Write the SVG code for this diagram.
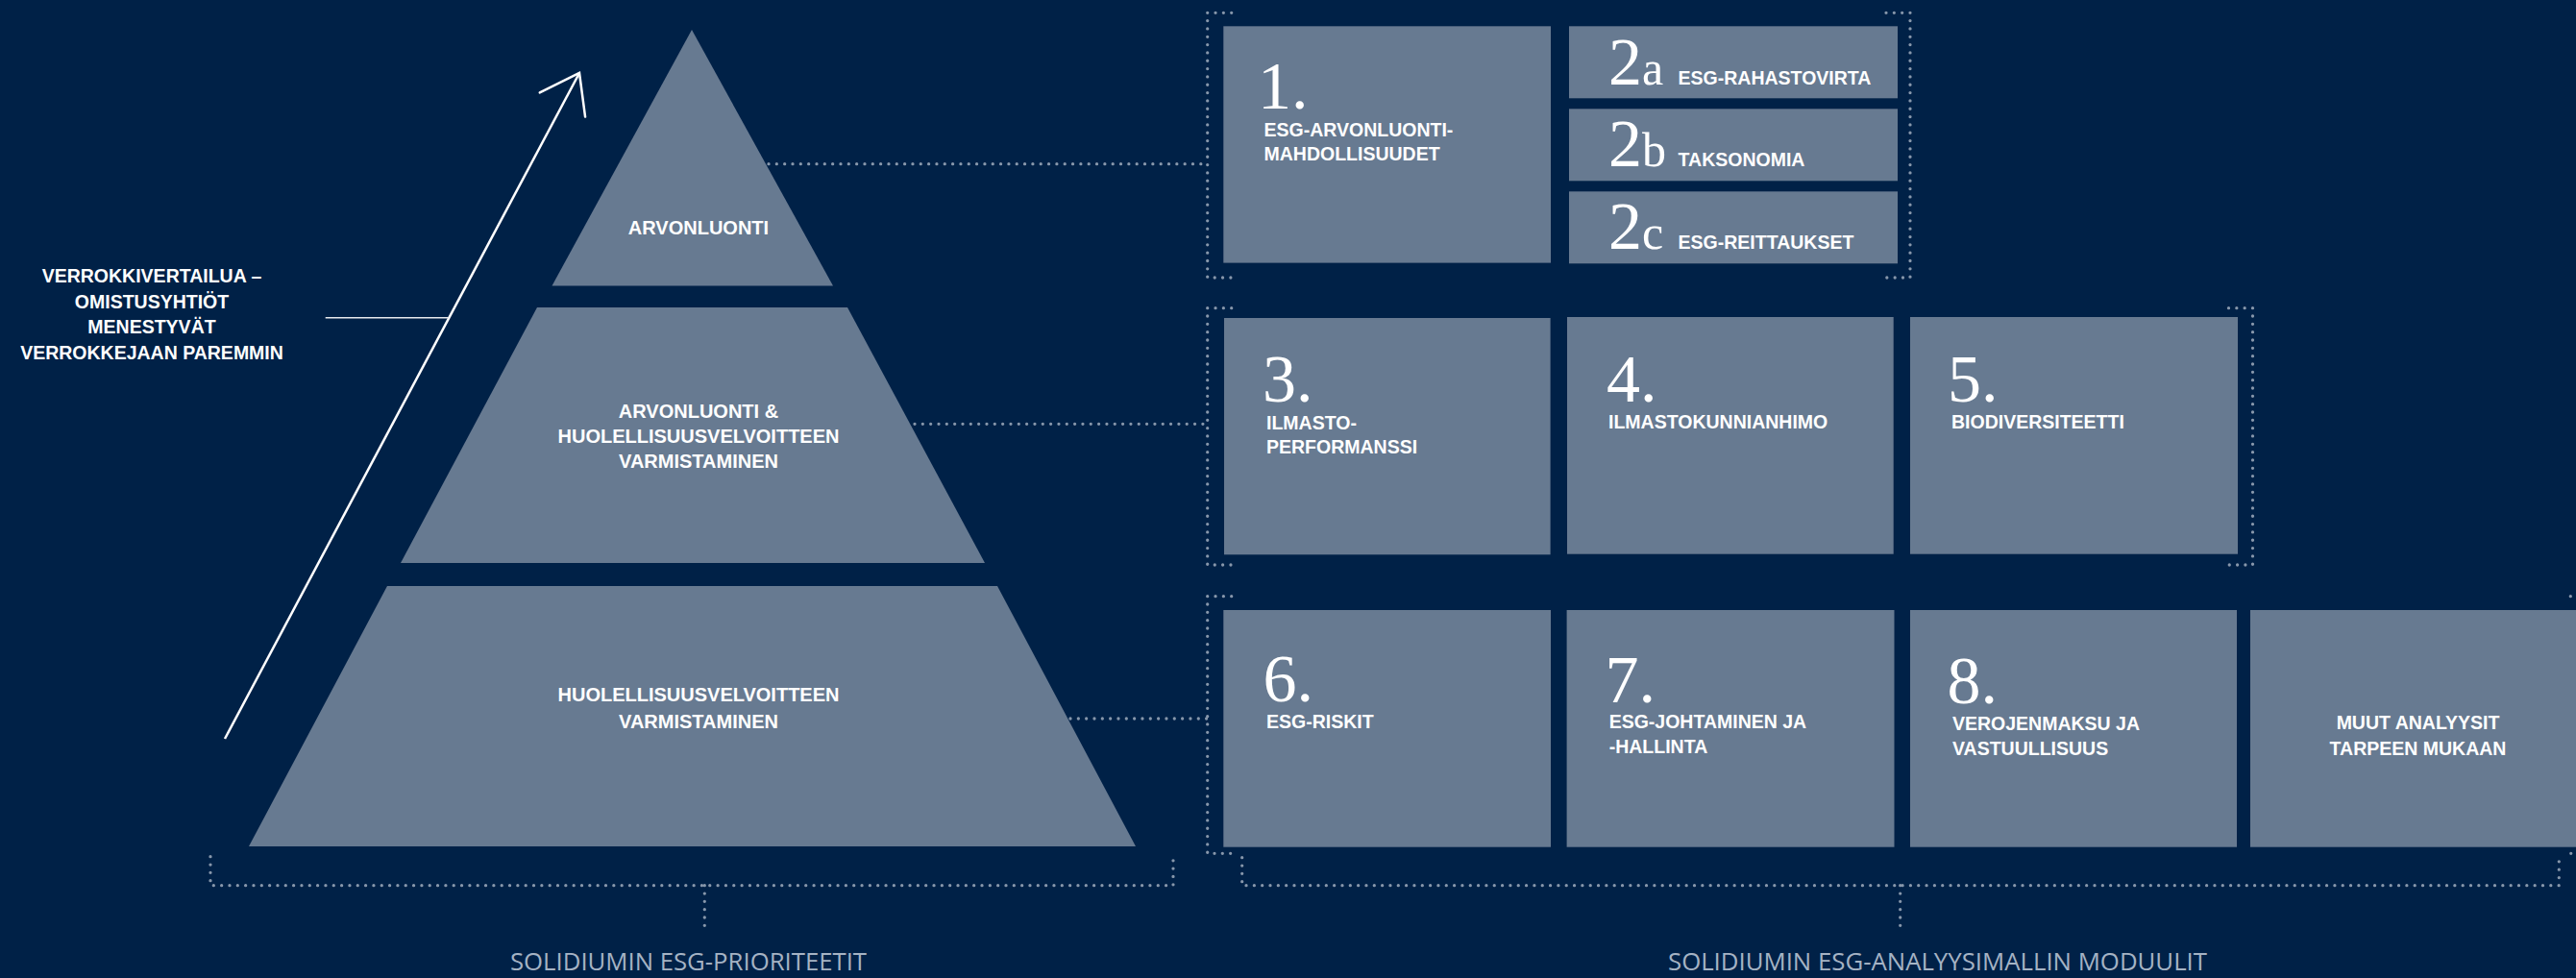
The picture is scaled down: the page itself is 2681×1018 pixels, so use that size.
<svg xmlns="http://www.w3.org/2000/svg" width="2681" height="1018" viewBox="0 0 2681 1018">
<defs>
<style>
.bg{fill:#002147}
.shape{fill:#677a91}
.lbl{font-family:"Liberation Sans",Arial,sans-serif;font-weight:bold;fill:#ffffff;font-size:19.5px}
.plbl{font-family:"Liberation Sans",Arial,sans-serif;font-weight:bold;fill:#ffffff;font-size:20px;text-anchor:middle}
.num{font-family:"Liberation Serif","Times New Roman",serif;fill:#ffffff;font-size:70px}
.sub{font-size:50px}
.dot{fill:none;stroke:#8797ab;stroke-width:3.3;stroke-dasharray:0 8.33;stroke-linecap:round}
.foot{font-family:"Open Sans","Liberation Sans",sans-serif;fill:#a5b3c4;font-size:26px;text-anchor:middle}
.side{font-family:"Liberation Sans",Arial,sans-serif;font-weight:bold;fill:#ffffff;font-size:19.5px;text-anchor:middle}
</style>
<marker id="openArrow" markerUnits="userSpaceOnUse" viewBox="-42 -32 46 64" refX="0" refY="0" markerWidth="46" markerHeight="64" orient="auto" overflow="visible">
<path d="M-37.4,-26.8 L0,0 L-37.4,26.8" fill="none" stroke="#ffffff" stroke-width="2.5" stroke-linecap="round" stroke-linejoin="miter"/>
</marker>
</defs>
<rect class="bg" x="0" y="0" width="2681" height="1018"/>

<g id="connectors">
<line x1="234" y1="769" x2="603" y2="76" stroke="#ffffff" stroke-width="2.5" marker-end="url(#openArrow)"/>
<line x1="338.7" y1="330.7" x2="466" y2="330.7" stroke="#e6e9ee" stroke-width="1.6"/>
<path class="dot" d="M800,170.7 H1256.7"/>
<path class="dot" d="M952,441.3 H1256.7"/>
<path class="dot" d="M1114,748 H1256.7"/>
<path class="dot" d="M1281.7,13.3 H1256.7 V289 H1281.7"/>
<path class="dot" d="M1963,13.3 H1988 V289 H1963"/>
<path class="dot" d="M1281.7,320.7 H1256.7 V588 H1281.7"/>
<path class="dot" d="M2319.5,320.7 H2344.5 V588 H2319.5"/>
<path class="dot" d="M1281.7,620.7 H1256.7 V888.3 H1281.7"/>
<path class="dot" d="M2675.3,620.7 H2700 V888.3 H2675.3"/>
<path class="dot" d="M219,891.7 V921.7 H1221 V891.7"/>
<path class="dot" d="M733.3,921.7 V968.3"/>
<path class="dot" d="M1292.7,892.7 V921.7 H2663.3 V892.7"/>
<path class="dot" d="M1977.7,921.7 V968.3"/>
</g>

<g id="benchmark-note">
<text class="side" x="158" y="294">VERROKKIVERTAILUA –</text>
<text class="side" x="158" y="320.5">OMISTUSYHTIÖT</text>
<text class="side" x="158" y="347">MENESTYVÄT</text>
<text class="side" x="158" y="373.5">VERROKKEJAAN PAREMMIN</text>
</g>

<g id="pyramid-top">
<polygon class="shape" points="720,31 867,297.5 574.5,297.5"/>
<text class="plbl" x="727" y="244">ARVONLUONTI</text>
</g>
<g id="pyramid-middle">
<polygon class="shape" points="559,320 882,320 1025,586 417,586"/>
<text class="plbl" x="727" y="435">ARVONLUONTI &amp;</text>
<text class="plbl" x="727" y="461">HUOLELLISUUSVELVOITTEEN</text>
<text class="plbl" x="727" y="487">VARMISTAMINEN</text>
</g>
<g id="pyramid-bottom">
<polygon class="shape" points="403,610 1038,610 1182,881 259,881"/>
<text class="plbl" x="727" y="730">HUOLELLISUUSVELVOITTEEN</text>
<text class="plbl" x="727" y="758">VARMISTAMINEN</text>
</g>

<g id="module-1">
<rect class="shape" x="1273.3" y="27.3" width="340.7" height="246.3"/>
<text class="num" x="1309" y="113.3">1.</text>
<text class="lbl" x="1315.5" y="142">ESG-ARVONLUONTI-</text>
<text class="lbl" x="1315.5" y="166.5">MAHDOLLISUUDET</text>
</g>
<g id="module-2a">
<rect class="shape" x="1633" y="27.3" width="342" height="75"/>
<text class="num" x="1674" y="88.3">2<tspan class="sub">a</tspan></text>
<text class="lbl" x="1746.6" y="87.5">ESG-RAHASTOVIRTA</text>
</g>
<g id="module-2b">
<rect class="shape" x="1633" y="113.3" width="342" height="75"/>
<text class="num" x="1674" y="173.3">2<tspan class="sub">b</tspan></text>
<text class="lbl" x="1746.6" y="173.3">TAKSONOMIA</text>
</g>
<g id="module-2c">
<rect class="shape" x="1633" y="199.3" width="342" height="75"/>
<text class="num" x="1674" y="259.3">2<tspan class="sub">c</tspan></text>
<text class="lbl" x="1746.6" y="258.5">ESG-REITTAUKSET</text>
</g>

<g id="module-3">
<rect class="shape" x="1274" y="331" width="339.6" height="246.3"/>
<text class="num" x="1314" y="418.3">3.</text>
<text class="lbl" x="1318" y="446.5">ILMASTO-</text>
<text class="lbl" x="1318" y="472.3">PERFORMANSSI</text>
</g>
<g id="module-4">
<rect class="shape" x="1631" y="330" width="339.7" height="246.7"/>
<text class="num" x="1672" y="418.3">4.</text>
<text class="lbl" x="1674" y="446">ILMASTOKUNNIANHIMO</text>
</g>
<g id="module-5">
<rect class="shape" x="1988" y="330" width="341" height="246.7"/>
<text class="num" x="2027" y="418.3">5.</text>
<text class="lbl" x="2031" y="446">BIODIVERSITEETTI</text>
</g>

<g id="module-6">
<rect class="shape" x="1273.3" y="635" width="340.7" height="246.7"/>
<text class="num" x="1314.5" y="730">6.</text>
<text class="lbl" x="1318" y="758">ESG-RISKIT</text>
</g>
<g id="module-7">
<rect class="shape" x="1630.6" y="635" width="340.9" height="246.7"/>
<text class="num" x="1670.5" y="730.5">7.</text>
<text class="lbl" x="1674.7" y="757.5">ESG-JOHTAMINEN JA</text>
<text class="lbl" x="1674.7" y="784">-HALLINTA</text>
</g>
<g id="module-8">
<rect class="shape" x="1988" y="635" width="340" height="246.7"/>
<text class="num" x="2026.5" y="731.5">8.</text>
<text class="lbl" x="2032" y="760">VEROJENMAKSU JA</text>
<text class="lbl" x="2032" y="785.7">VASTUULLISUUS</text>
</g>
<g id="module-other">
<rect class="shape" x="2342" y="635" width="360" height="246.7"/>
<text class="lbl" x="2516.5" y="759" text-anchor="middle">MUUT ANALYYSIT</text>
<text class="lbl" x="2516.5" y="785.7" text-anchor="middle">TARPEEN MUKAAN</text>
</g>

<g id="label-priorities">
<text class="foot" x="716.5" y="1010" textLength="371" lengthAdjust="spacingAndGlyphs">SOLIDIUMIN ESG-PRIORITEETIT</text>
</g>
<g id="label-modules">
<text class="foot" x="2016.5" y="1010" textLength="561" lengthAdjust="spacingAndGlyphs">SOLIDIUMIN ESG-ANALYYSIMALLIN MODUULIT</text>
</g>
</svg>
